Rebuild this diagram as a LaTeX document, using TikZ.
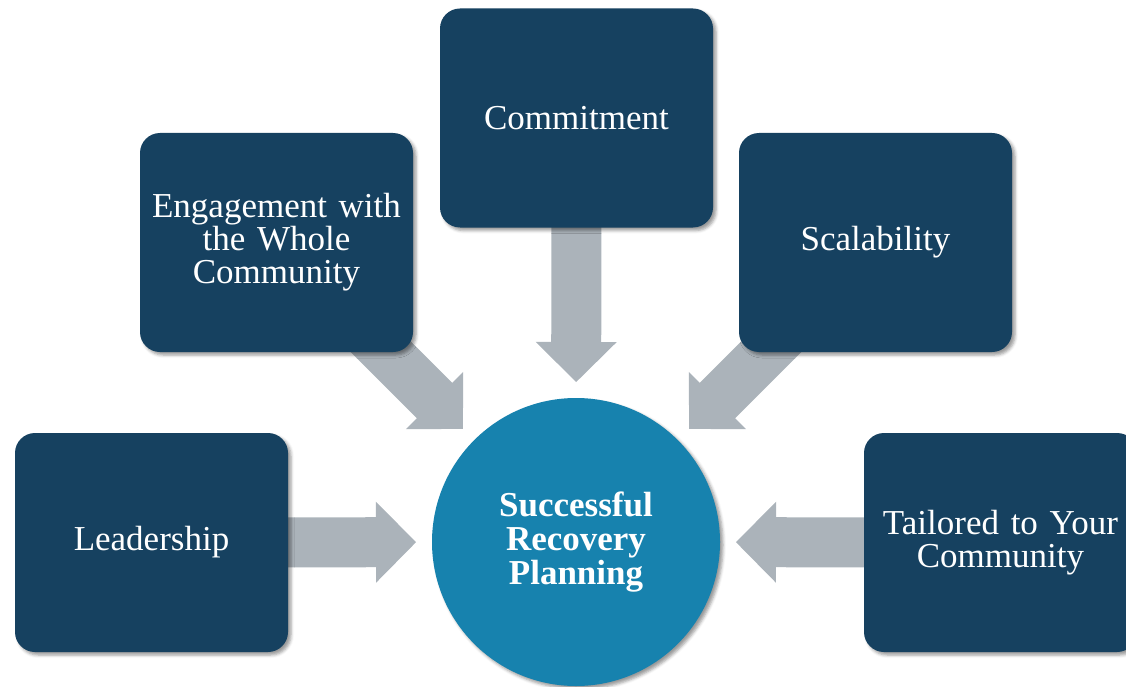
\documentclass[tikz,border=0pt]{standalone}
\usepackage{fontspec}
\setmainfont{Liberation Serif}
\usetikzlibrary{calc,backgrounds,shadows.blur}
\definecolor{boxnavy}{RGB}{22,65,96}
\definecolor{hubblue}{RGB}{23,130,174}
\definecolor{arrowgray}{RGB}{171,179,186}
\tikzset{
  pillar/.style={rectangle, rounded corners=20pt, fill=boxnavy, text=white,
    minimum width=273pt, minimum height=219pt, text width=255pt, align=center,
    inner sep=0pt, font=\fontsize{35}{33}\selectfont,
    blur shadow={shadow xshift=3pt, shadow yshift=-3pt, shadow blur radius=3pt, shadow opacity=40}},
  hubdisc/.style={circle, fill=hubblue, text=white, minimum size=288pt, align=center,
    inner sep=0pt, font=\fontsize{35}{34}\selectfont\bfseries,
    blur shadow={shadow xshift=3pt, shadow yshift=-3pt, shadow blur radius=3pt, shadow opacity=40}},
  feeder/.style={arrowgray, line width=50pt}
}
\begin{document}
\begin{tikzpicture}[x=1pt, y=-1pt]
\useasboundingbox (0,0) rectangle (1126,687);
\clip (0,0) rectangle (1126,687);
% centre and the five pillars
\node[hubdisc] (hub) at (576,542) {Successful\\Recovery\\Planning};
\node[pillar] (commit) at (576.5,118) {Commitment};
\node[pillar] (engage) at (276.5,242.5) {Engagement with\\the Whole\\Community};
\node[pillar] (scale) at (875.5,242.5) {Scalability};
\node[pillar] (lead) at (151.5,542.5) {Leadership};
\node[pillar] (tailor) at (1000.5,542.5) {Tailored to Your\\Community};
% block arrows towards the centre
\begin{scope}[on background layer]
\foreach \src in {commit,engage,scale,lead,tailor}{
  \coordinate (neck) at ($(hub.center)!200pt!(\src.center)$);
  \draw[feeder] (\src.center) -- ($(hub.center)!196pt!(\src.center)$);
  \fill[arrowgray] ($(hub.center)!160pt!(\src.center)$) -- ($(neck)!40.5pt!90:(hub.center)$)
    -- ($(neck)!40.5pt!-90:(hub.center)$) -- cycle;
}
\end{scope}
\end{tikzpicture}
\end{document}
